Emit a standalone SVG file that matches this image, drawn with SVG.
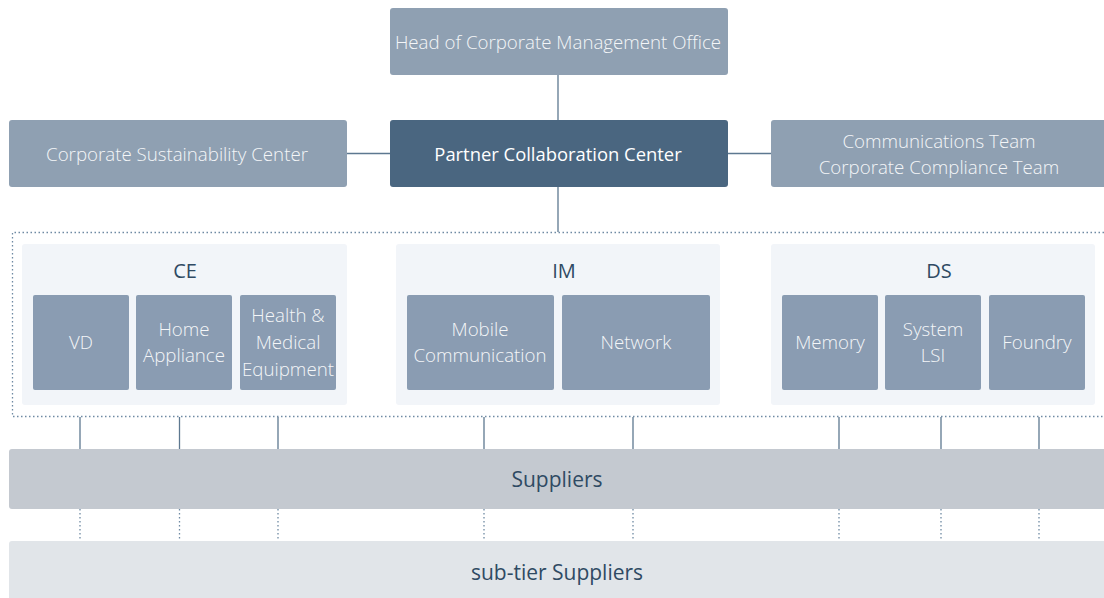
<svg xmlns="http://www.w3.org/2000/svg" width="1104" height="598" viewBox="0 0 1104 598">
<style>
.box{fill:#8fa0b2}
.dark{fill:#4a6680}
.panel{fill:#f2f5f9}
.sub{fill:#8a9cb2}
.t{font-family:"Open Sans","Noto Sans",sans-serif;font-weight:300;fill:#f4f6f8;text-anchor:middle;font-size:18.7px}
.tw{font-family:"Open Sans","Noto Sans",sans-serif;font-weight:400;fill:#ffffff;text-anchor:middle;font-size:18.4px}
.th{font-family:"Open Sans","Noto Sans",sans-serif;font-weight:400;fill:#2f4a63;text-anchor:middle;font-size:20px}
.ln{stroke:#5d7890;stroke-width:1.3;fill:none}
.dot{stroke:#6f8aa3;stroke-width:1.3;fill:none;stroke-dasharray:1.5 2.5}
</style>
<g id="frame">
<path class="dot" d="M1104 232.5 H12.5 V416.5 H1104"/>
</g>
<g id="connectors">
<line class="ln" x1="558" y1="75" x2="558" y2="120"/>
<line class="ln" x1="347" y1="153.5" x2="390" y2="153.5"/>
<line class="ln" x1="728" y1="153.5" x2="771" y2="153.5"/>
<line class="ln" x1="558" y1="187" x2="558" y2="232"/>
<g class="ln">
<line x1="80" y1="417" x2="80" y2="449"/>
<line x1="179.5" y1="417" x2="179.5" y2="449"/>
<line x1="278" y1="417" x2="278" y2="449"/>
<line x1="484" y1="417" x2="484" y2="449"/>
<line x1="633" y1="417" x2="633" y2="449"/>
<line x1="839" y1="417" x2="839" y2="449"/>
<line x1="941" y1="417" x2="941" y2="449"/>
<line x1="1039" y1="417" x2="1039" y2="449"/>
</g>
<g class="dot">
<line x1="80" y1="509" x2="80" y2="541"/>
<line x1="179.5" y1="509" x2="179.5" y2="541"/>
<line x1="278" y1="509" x2="278" y2="541"/>
<line x1="484" y1="509" x2="484" y2="541"/>
<line x1="633" y1="509" x2="633" y2="541"/>
<line x1="839" y1="509" x2="839" y2="541"/>
<line x1="941" y1="509" x2="941" y2="541"/>
<line x1="1039" y1="509" x2="1039" y2="541"/>
</g>
</g>
<g id="head"><rect class="box" x="390" y="8" width="338" height="67" rx="3"/><text class="t" x="558" y="48.5">Head of Corporate Management Office</text></g>
<g id="sustain"><rect class="box" x="9" y="120" width="338" height="67" rx="3"/><text class="t" x="177" y="160.5">Corporate Sustainability Center</text></g>
<g id="partner"><rect class="dark" x="390" y="120" width="338" height="67" rx="3"/><text class="tw" x="558" y="160.5">Partner Collaboration Center</text></g>
<g id="comms"><rect class="box" x="771" y="120" width="340" height="67" rx="3"/><text class="t" x="939" y="147.5">Communications Team</text><text class="t" x="939" y="173.5">Corporate Compliance Team</text></g>
<g id="ce">
<rect class="panel" x="22" y="244" width="325" height="161" rx="3"/>
<text class="th" x="185" y="278">CE</text>
<g id="vd"><rect class="sub" x="33" y="295" width="96" height="95" rx="2"/><text class="t" x="81" y="349">VD</text></g>
<g id="home"><rect class="sub" x="136" y="295" width="96" height="95" rx="2"/><text class="t" x="184" y="336">Home</text><text class="t" x="184" y="362">Appliance</text></g>
<g id="health"><rect class="sub" x="240" y="295" width="96" height="95" rx="2"/><text class="t" x="288" y="322">Health &amp;</text><text class="t" x="288" y="349">Medical</text><text class="t" x="288" y="376">Equipment</text></g>
</g>
<g id="im">
<rect class="panel" x="396" y="244" width="324" height="161" rx="3"/>
<text class="th" x="564" y="278">IM</text>
<g id="mobile"><rect class="sub" x="407" y="295" width="147" height="95" rx="2"/><text class="t" x="480" y="336">Mobile</text><text class="t" x="480" y="362">Communication</text></g>
<g id="network"><rect class="sub" x="562" y="295" width="148" height="95" rx="2"/><text class="t" x="636" y="349">Network</text></g>
</g>
<g id="ds">
<rect class="panel" x="771" y="244" width="324" height="161" rx="3"/>
<text class="th" x="939" y="278">DS</text>
<g id="memory"><rect class="sub" x="782" y="295" width="96" height="95" rx="2"/><text class="t" x="830" y="349">Memory</text></g>
<g id="lsi"><rect class="sub" x="885" y="295" width="96" height="95" rx="2"/><text class="t" x="933" y="336">System</text><text class="t" x="933" y="362">LSI</text></g>
<g id="foundry"><rect class="sub" x="989" y="295" width="96" height="95" rx="2"/><text class="t" x="1037" y="349">Foundry</text></g>
</g>
<g id="suppliers"><rect x="9" y="449" width="1100" height="60" rx="3" fill="#c4c9d0"/><text class="th" x="557" y="487" style="font-size:21px">Suppliers</text></g>
<g id="subtier"><rect x="9" y="541" width="1100" height="62" rx="3" fill="#e1e5e9"/><text class="th" x="557" y="579.5" style="font-size:21px">sub-tier Suppliers</text></g>
</svg>
